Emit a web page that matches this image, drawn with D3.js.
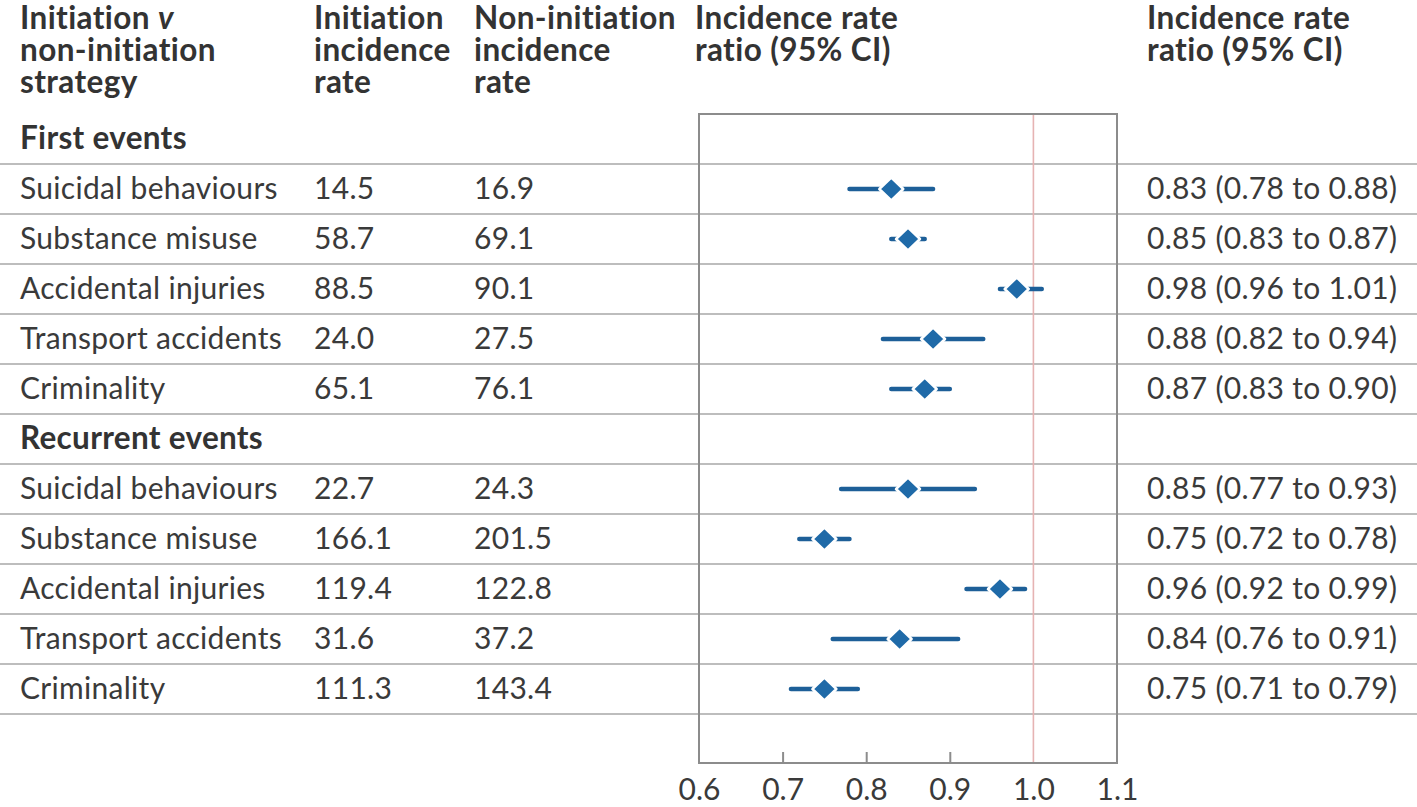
<!DOCTYPE html>
<html>
<head>
<meta charset="utf-8">
<script src="https://cdn.jsdelivr.net/npm/d3@7"></script>
<style>
  body { margin: 0; background: #fff; }
  svg { display: block; font-family: Lato, "Noto Sans", sans-serif; }
</style>
</head>
<body>
<svg id="chart" width="1417" height="807"></svg>
<script>
// rows, top to bottom; null values mark a section header row
const rowLabels = ['First events', 'Suicidal behaviours', 'Substance misuse', 'Accidental injuries',
  'Transport accidents', 'Criminality', 'Recurrent events', 'Suicidal behaviours', 'Substance misuse',
  'Accidental injuries', 'Transport accidents', 'Criminality']
const isHeader = [true, false, false, false, false, false, true, false, false, false, false, false]
const initRate = [null, '14.5', '58.7', '88.5', '24.0', '65.1', null, '22.7', '166.1', '119.4', '31.6', '111.3']
const nonInitRate = [null, '16.9', '69.1', '90.1', '27.5', '76.1', null, '24.3', '201.5', '122.8', '37.2', '143.4']
const irr = [null, 0.83, 0.85, 0.98, 0.88, 0.87, null, 0.85, 0.75, 0.96, 0.84, 0.75]
const ciLow = [null, 0.78, 0.83, 0.96, 0.82, 0.83, null, 0.77, 0.72, 0.92, 0.76, 0.71]
const ciHigh = [null, 0.88, 0.87, 1.01, 0.94, 0.90, null, 0.93, 0.78, 0.99, 0.91, 0.79]
const xTicks = [0.6, 0.7, 0.8, 0.9, 1.0, 1.1]

const rows = rowLabels.map((label, i) => ({
  i, label, header: isHeader[i], init: initRate[i], nonInit: nonInitRate[i],
  irr: irr[i], lo: ciLow[i], hi: ciHigh[i]
}))

const W = 1417
const textColor = '#3a3a3a'
const headColor = '#333'
const blue = '#1f6aa8'
const fs = 30
const fsHead = 31.5

const svg = d3.select('#chart')

const x = d3.scaleLinear().domain([0.6, 1.1]).range([699, 1117])
const y = d3.scaleBand().domain(d3.range(rows.length)).range([114, 714])
const boxBottom = 763

// column headers
const headers = [
  { x: 20, lines: [['Initiation ', 'v'], ['non-initiation'], ['strategy']] },
  { x: 314, lines: [['Initiation'], ['incidence'], ['rate']] },
  { x: 474, lines: [['Non-initiation'], ['incidence'], ['rate']] },
  { x: 695, lines: [['Incidence rate'], ['ratio (95% CI)']] },
  { x: 1147, lines: [['Incidence rate'], ['ratio (95% CI)']] }
]
headers.forEach(h => {
  h.lines.forEach((parts, li) => {
    const t = svg.append('text')
      .attr('x', h.x).attr('y', 29 + li * 32)
      .attr('fill', headColor).attr('font-size', fsHead).attr('font-weight', 700)
      .attr('letter-spacing', 0.4)
    parts.forEach((p, pi) => {
      t.append('tspan').text(p).attr('font-style', pi === 1 ? 'italic' : null)
    })
  })
})

// row separator lines
svg.append('g').selectAll('line').data(rows).enter()
  .append('line')
  .attr('x1', 0).attr('x2', W)
  .attr('y1', d => y(d.i) + y.bandwidth()).attr('y2', d => y(d.i) + y.bandwidth())
  .attr('stroke', '#bdbdbd').attr('stroke-width', 2)

// plot box
svg.append('rect')
  .attr('x', x(0.6)).attr('y', y(0))
  .attr('width', x(1.1) - x(0.6)).attr('height', boxBottom - y(0))
  .attr('fill', 'none').attr('stroke', '#8c8c8c').attr('stroke-width', 2)

// axis
const xAxis = d3.axisBottom(x).tickValues(xTicks).tickFormat(d3.format('.1f'))
  .tickSizeInner(-11).tickSizeOuter(0).tickPadding(16)
const ax = svg.append('g').attr('transform', `translate(0,${boxBottom})`).call(xAxis)
ax.select('.domain').remove()
ax.selectAll('.tick line').attr('stroke', '#8c8c8c').attr('stroke-width', 2)
  .filter(d => d === 0.6 || d === 1.1 || d === 1.0).remove()
ax.selectAll('.tick text').attr('font-size', fs).attr('font-family', 'Lato, "Noto Sans", sans-serif')
  .attr('fill', textColor)

// reference line at 1.0
svg.append('line')
  .attr('x1', x(1)).attr('x2', x(1))
  .attr('y1', y(0) + 1).attr('y2', boxBottom - 1)
  .attr('stroke', '#e6b3b3').attr('stroke-width', 1.6)

// text cells
const cells = svg.append('g').selectAll('g').data(rows).enter().append('g')
  .attr('transform', d => `translate(0,${y(d.i) + y.bandwidth() / 2 + 10})`)
  .attr('font-size', fs).attr('fill', textColor).attr('letter-spacing', 0.3)

cells.append('text').attr('x', 20).text(d => d.label)
  .attr('font-weight', d => d.header ? 700 : 400)
  .attr('font-size', d => d.header ? fsHead : fs)
  .attr('fill', d => d.header ? headColor : textColor)
cells.filter(d => !d.header).append('text').attr('x', 314).text(d => d.init)
cells.filter(d => !d.header).append('text').attr('x', 474).text(d => d.nonInit)
cells.filter(d => !d.header).append('text').attr('x', 1147)
  .text(d => `${d.irr.toFixed(2)} (${d.lo.toFixed(2)} to ${d.hi.toFixed(2)})`)

// CI lines and diamonds
const marks = svg.append('g').selectAll('g').data(rows.filter(d => !d.header)).enter().append('g')
  .attr('transform', d => `translate(0,${y(d.i) + y.bandwidth() / 2})`)

marks.append('line')
  .attr('x1', d => x(d.lo)).attr('x2', d => x(d.hi))
  .attr('stroke', '#1d5f98').attr('stroke-width', 4.5).attr('stroke-linecap', 'round')

marks.append('path')
  .attr('d', 'M0,-11.5L12,0L0,11.5L-12,0Z')
  .attr('transform', d => `translate(${x(d.irr)},0)`)
  .attr('fill', blue).attr('stroke', '#fff').attr('stroke-width', 2.5)
  .attr('stroke-linejoin', 'round')
</script>
</body>
</html>
